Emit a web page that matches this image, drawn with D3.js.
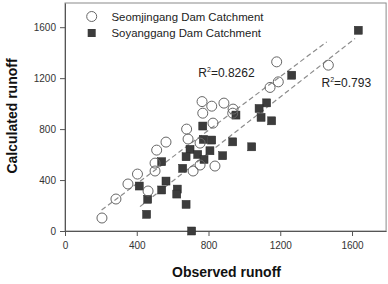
<!DOCTYPE html>
<html><head><meta charset="utf-8">
<script src="https://cdn.jsdelivr.net/npm/d3@7"></script>
<style>body{margin:0;background:#fff}svg{display:block}</style>
</head><body>
<script>
const seomObs  = [206,284,351,404,463,502,502,511,563,678,686,714,753,836,753,764,818,886,937,768,825,935,1180,1468,1189,1143];
const seomCalc = [102,251,369,447,314,533,471,635,698,800,722,471,518,510,690,1016,980,1004,957,925,847,925,1328,1302,1171,1127];
const soyObs  = [1635,1264,1124,1082,953,1093,1152,768,771,818,697,808,935,1041,539,675,740,775,879,414,656,563,539,626,623,461,675,455,706];
const soyCalc = [1576,1223,1006,962,910,892,865,824,719,714,641,630,700,661,544,583,601,562,591,353,492,392,322,329,290,249,209,131,0];
const seomFit = {slope:1.052, intercept:-50, from:204, to:1459};
const soyFit  = {slope:1.101, intercept:-269, from:418, to:1617};
const tickVals = [0,400,800,1200,1600];
const seriesNames = ["Seomjingang Dam Catchment","Soyanggang Dam Catchment"];
const r2Labels = ["0.8262","0.793"];

const W=388,H=284;
const svg=d3.select("body").append("svg").attr("width",W).attr("height",H)
  .style("font-family","Arial, 'Liberation Sans', sans-serif");
const x=d3.scaleLinear().domain([0,1790]).range([65,386.1]);
const y=d3.scaleLinear().domain([0,1790]).range([231,3]);

// frame
svg.append("rect").attr("x",x(0)).attr("y",y(1790)).attr("width",x(1790)-x(0)).attr("height",y(0)-y(1790))
  .attr("fill","none").attr("stroke","#8a8a8a").attr("stroke-width",1);

const fmt=d3.format("d");
const xa=svg.append("g").attr("transform",`translate(0,${y(0)})`)
  .call(d3.axisBottom(x).tickValues(tickVals).tickFormat(fmt).tickSize(5).tickPadding(6).tickSizeOuter(0));
const ya=svg.append("g").attr("transform",`translate(${x(0)},0)`)
  .call(d3.axisLeft(y).tickValues(tickVals).tickFormat(fmt).tickSize(5).tickPadding(4).tickSizeOuter(0));
[xa,ya].forEach(a=>{
  a.select(".domain").attr("stroke","#555");
  a.selectAll(".tick line").attr("stroke","#555");
  a.selectAll(".tick text").attr("fill","#333").style("font-size","10px").style("font-family","Arial, 'Liberation Sans', sans-serif");
});

// fit lines
[seomFit,soyFit].forEach(f=>{
  svg.append("line")
    .attr("x1",x(f.from)).attr("y1",y(f.slope*f.from+f.intercept))
    .attr("x2",x(f.to)).attr("y2",y(f.slope*f.to+f.intercept))
    .attr("stroke","#8c8c8c").attr("stroke-width",1.2).attr("stroke-dasharray","5,3");
});

// points
svg.append("g").selectAll("rect").data(soyObs.map((d,i)=>[d,soyCalc[i]])).join("rect")
  .attr("x",d=>x(d[0])-4).attr("y",d=>y(d[1])-4).attr("width",8).attr("height",8)
  .attr("fill","#3c3c3c").attr("stroke","#2a2a2a").attr("stroke-width",0.5);
svg.append("g").selectAll("circle").data(seomObs.map((d,i)=>[d,seomCalc[i]])).join("circle")
  .attr("cx",d=>x(d[0])).attr("cy",d=>y(d[1])).attr("r",5)
  .attr("fill","none").attr("stroke","#666").attr("stroke-width",1);

// legend
svg.append("circle").attr("cx",91.7).attr("cy",16.5).attr("r",5).attr("fill","none").attr("stroke","#666");
svg.append("rect").attr("x",87.7).attr("y",29).attr("width",8).attr("height",8).attr("fill","#3c3c3c");
seriesNames.forEach((n,i)=>{
  svg.append("text").attr("x",111.5).attr("y",20.5+i*16.3).text(n)
    .attr("fill","#222").style("font-size","11.4px");
});

// R2 labels
function r2(xp,yp,val){
  const t=svg.append("text").attr("x",xp).attr("y",yp).attr("fill","#222").style("font-size","12px");
  t.append("tspan").text("R");
  t.append("tspan").text("2").attr("dy",-5).style("font-size","7px");
  t.append("tspan").text("="+val).attr("dy",5);
}
r2(198.3,77,r2Labels[0]);
r2(321.5,87,r2Labels[1]);

// axis titles
svg.append("text").attr("x",226.5).attr("y",277).attr("text-anchor","middle")
  .style("font-size","14px").style("font-weight","bold").attr("fill","#111").text("Observed runoff");
svg.append("text").attr("transform","translate(17,116) rotate(-90)").attr("text-anchor","middle")
  .style("font-size","14px").style("font-weight","bold").attr("fill","#111").text("Calculated runoff");
</script>
</body></html>
